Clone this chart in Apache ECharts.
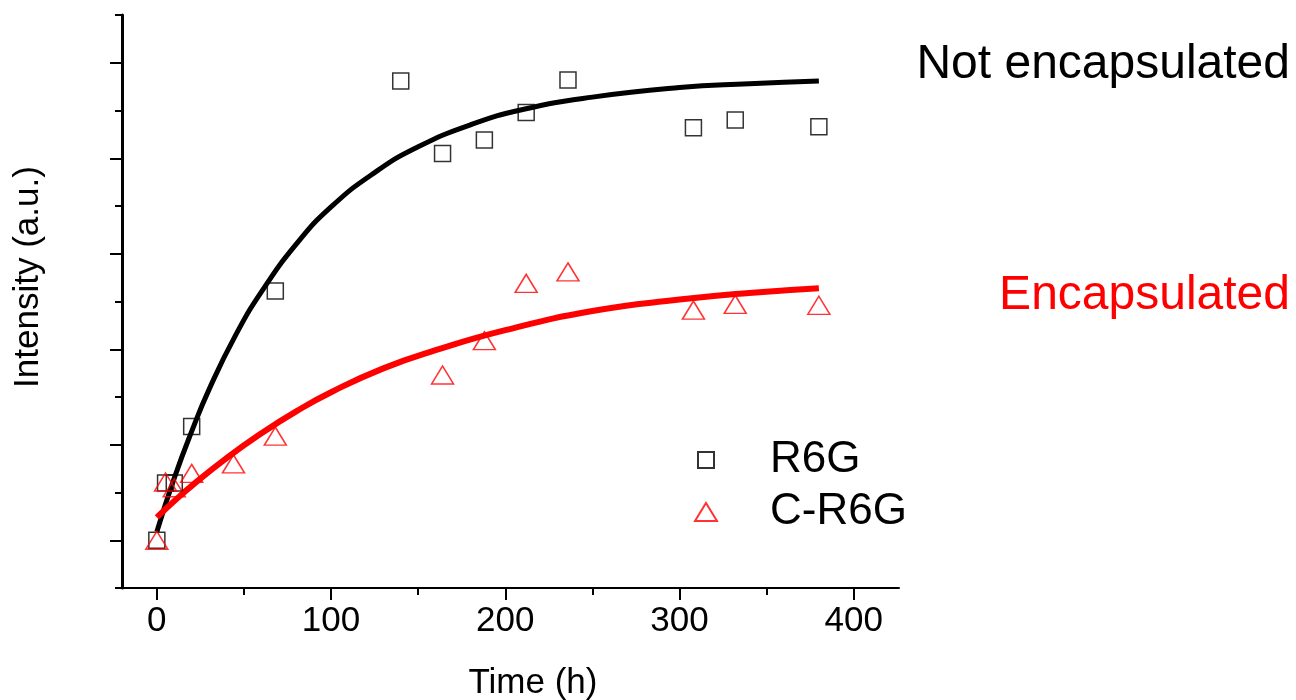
<!DOCTYPE html>
<html>
	<head>
		<meta charset="UTF-8">
		<title>Intensity vs time</title>
		<script src="https://cdn.jsdelivr.net/npm/echarts@6/dist/echarts.min.js"></script>
		<style>
			html,body{margin:0;padding:0;background:#fff;}
			#chart{width:1296px;height:700px;}
		</style>
	</head>
	<body>
		<div id="chart"></div>
		<script>
			// measured points (time in h, intensity in a.u.)
			var r6gTime = [0, 5, 10, 20, 68, 140, 164, 188, 212, 236, 308, 332, 380];
			var r6gVal = [0, 0.6, 0.6, 1.19, 2.61, 4.81, 4.05, 4.19, 4.48, 4.82, 4.32, 4.40, 4.33];
			var cr6gTime = [0, 5, 10, 20, 44, 68, 164, 188, 212, 236, 308, 332, 380];
			var cr6gVal = [0, 0.61, 0.55, 0.7, 0.8, 1.09, 1.73, 2.09, 2.69, 2.81, 2.41, 2.47, 2.46];

			// fitted curves
			var fitR6gTime = [0, 10, 20, 30, 45, 60, 80, 100, 125, 150, 180, 210, 250, 300, 340, 380];
			var fitR6gVal = [0.09, 0.65, 1.14, 1.58, 2.14, 2.6, 3.1, 3.49, 3.85, 4.12, 4.35, 4.51, 4.64, 4.74, 4.78, 4.81];
			var fitCr6gTime = [0, 10, 20, 40, 60, 80, 100, 130, 160, 200, 250, 300, 340, 380];
			var fitCr6gVal = [0.24, 0.41, 0.57, 0.86, 1.12, 1.35, 1.55, 1.8, 1.99, 2.2, 2.4, 2.52, 2.59, 2.64];

			var xMajor = [0, 100, 200, 300, 400];
			var xMinor = [50, 150, 250, 350];
			var yMajor = [0, 1, 2, 3, 4, 5];
			var yMinor = [-0.5, 0.5, 1.5, 2.5, 3.5, 4.5, 5.5];

			function pairs(xs, ys){
				var out = [];
				for(var i=0;i<xs.length;i++){ out.push([xs[i], ys[i]]); }
				return out;
			}

			var font = 'Liberation Sans, Arial, sans-serif';
			var xBase = {type:'value', min:-20, max:426, splitLine:{show:false}};
			var yBase = {type:'value', min:-0.5, max:5.5, splitLine:{show:false}};

			var option = {
				animation: false,
				grid: {left:122, right:397, top:15, bottom:112},
				xAxis: [
					Object.assign({}, xBase, {
						axisLine:{onZero:false, lineStyle:{color:'#000', width:2}},
						axisTick:{customValues:xMajor, length:12, lineStyle:{color:'#000', width:2}},
						axisLabel:{customValues:xMajor, color:'#000', fontSize:35, fontFamily:font, margin:16}
					}),
					Object.assign({}, xBase, {
						position:'bottom',
						axisLine:{show:false, onZero:false},
						axisTick:{customValues:xMinor, length:7, lineStyle:{color:'#000', width:2}},
						axisLabel:{show:false}
					})
				],
				yAxis: [
					Object.assign({}, yBase, {
						axisLine:{show:true, onZero:false, lineStyle:{color:'#000', width:3}},
						axisTick:{show:true, customValues:yMajor, length:12, lineStyle:{color:'#000', width:2}},
						axisLabel:{show:false}
					}),
					Object.assign({}, yBase, {
						position:'left',
						axisLine:{show:false, onZero:false},
						axisTick:{show:true, customValues:yMinor, length:7, lineStyle:{color:'#000', width:2}},
						axisLabel:{show:false}
					})
				],
				legend: [
					{
						data:['R6G'], orient:'vertical', left:692, top:433,
						itemWidth:16, itemHeight:16,
						textStyle:{fontSize:44, fontFamily:font, color:'#000', lineHeight:44, padding:[0,0,0,51]}
					},
					{
						data:['C-R6G'], orient:'vertical', left:689, top:485,
						itemWidth:22, itemHeight:18,
						textStyle:{fontSize:44, fontFamily:font, color:'#000', lineHeight:44, padding:[0,0,0,48]}
					}
				],
				graphic: [
					{type:'text', x:28, y:277, rotation:Math.PI/2, style:{text:'Intensity (a.u.)', x:0, y:0, font:'35px '+font, fill:'#000', align:'center', verticalAlign:'middle'}},
					{type:'text', style:{text:'Time (h)', x:533, y:683, font:'35px '+font, fill:'#000', align:'center', verticalAlign:'middle'}},
					{type:'text', style:{text:'Not encapsulated', x:1290, y:65, font:'48px '+font, fill:'#000', align:'right', verticalAlign:'middle'}},
					{type:'text', style:{text:'Encapsulated', x:1290, y:296, font:'48px '+font, fill:'#ff0000', align:'right', verticalAlign:'middle'}}
				],
				series: [
					{
						name:'R6G fit', type:'line', data:pairs(fitR6gTime, fitR6gVal),
						smooth:true, showSymbol:false, lineStyle:{color:'#000', width:5}, z:2
					},
					{
						name:'C-R6G fit', type:'line', data:pairs(fitCr6gTime, fitCr6gVal),
						smooth:true, showSymbol:false, lineStyle:{color:'#ff0000', width:6}, z:2
					},
					{
						name:'R6G', type:'scatter', data:pairs(r6gTime, r6gVal),
						symbol:'rect', symbolSize:16,
						itemStyle:{color:'rgba(0,0,0,0)', borderColor:'#000', borderWidth:1.5}, z:3
					},
					{
						name:'C-R6G', type:'scatter', data:pairs(cr6gTime, cr6gVal),
						symbol:'triangle', symbolSize:[22,18],
						itemStyle:{color:'rgba(0,0,0,0)', borderColor:'#ff0000', borderWidth:1.5}, z:3
					}
				]
			};
			var myChart = echarts.init(document.getElementById('chart'));
			myChart.setOption(option);
		</script>
	</body>
</html>
